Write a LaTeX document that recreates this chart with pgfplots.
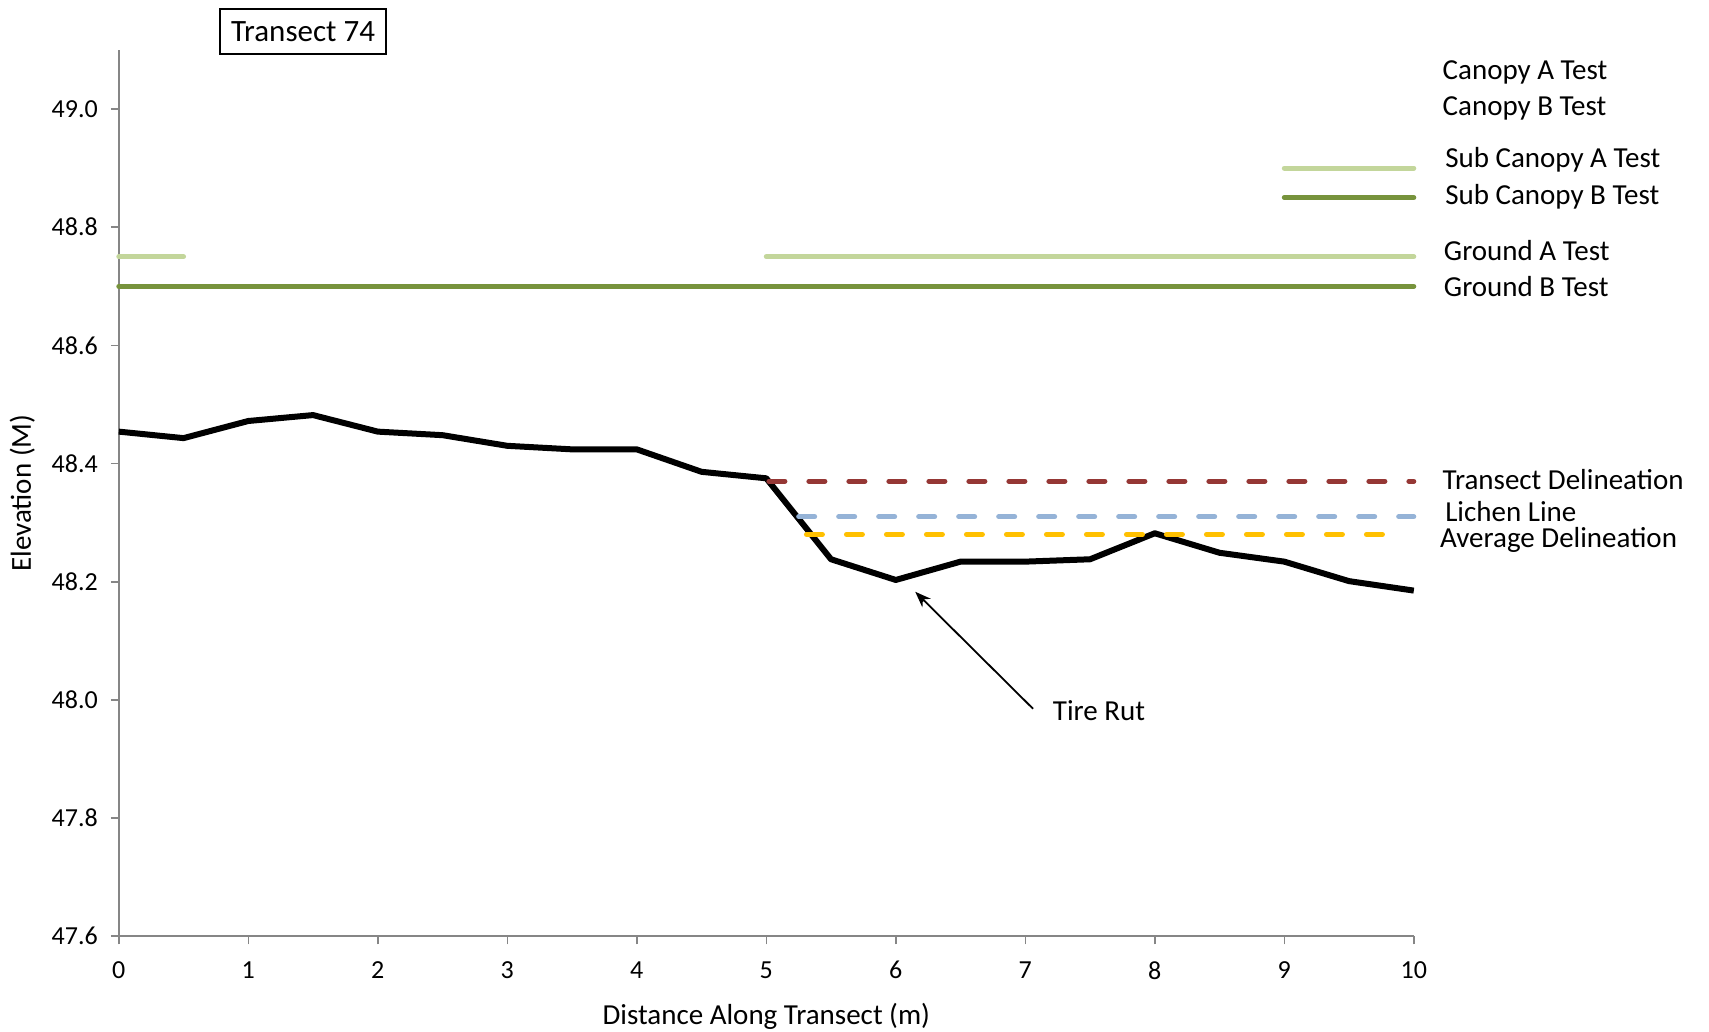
\documentclass[border=0pt]{standalone}
\usepackage{pgfplots}
\pgfplotsset{compat=1.18}
\usepackage{fontspec}
\setmainfont{Carlito}
\usetikzlibrary{arrows.meta}

\definecolor{lightgreen}{HTML}{C3D69B}
\definecolor{olivegreen}{HTML}{77933C}
\definecolor{delinred}{HTML}{953735}
\definecolor{lichenblue}{HTML}{95B3D7}
\definecolor{avggold}{HTML}{FFC000}
\definecolor{axisgray}{HTML}{868686}

\begin{document}
\begin{tikzpicture}
\path[use as bounding box] (0,0) rectangle (854.5pt,516pt);

\begin{axis}[
  at={(59.4pt,47.85pt)}, anchor=south west,
  scale only axis, width=647.5pt, height=443.2pt,
  xmin=0, xmax=10, ymin=47.6, ymax=49.1,
  clip=false,
  axis x line*=bottom, axis y line*=left,
  axis line style={axisgray, line width=1pt, -},
  tick style={axisgray, line width=0.8pt},
  tick align=outside, major tick length=4pt,
  xtick={0,1,...,10},
  ytick={47.6,47.8,48.0,48.2,48.4,48.6,48.8,49.0},
  yticklabel style={/pgf/number format/fixed, /pgf/number format/fixed zerofill, /pgf/number format/precision=1, xshift=-3pt},
  xticklabel style={yshift=-5pt},
  /pgf/number format/assume math mode=true,
  tick label style={font=\fontsize{13}{15}\selectfont},
  label style={font=\fontsize{14.5}{17}\selectfont},
  xlabel={Distance Along Transect (m)},
  ylabel={Elevation (M)},
  xlabel style={yshift=-5pt},
  ylabel style={yshift=1.5pt},
]

% ground profile
\addplot[black, line width=3pt, line join=round] coordinates {
(0,48.454) (0.5,48.443) (1,48.472) (1.5,48.482) (2,48.454) (2.5,48.448)
(3,48.430) (3.5,48.424) (4,48.424) (4.5,48.386) (5,48.375) (5.5,48.238)
(6,48.203) (6.5,48.234) (7,48.234) (7.5,48.238) (8,48.282) (8.5,48.249)
(9,48.234) (9.5,48.201) (10,48.185)};

% test levels
\addplot[lightgreen, line width=2.5pt, line cap=round] coordinates {(0,48.75) (0.5,48.75)};
\addplot[lightgreen, line width=2.5pt, line cap=round] coordinates {(5,48.75) (10,48.75)};
\addplot[olivegreen, line width=2.5pt, line cap=round] coordinates {(0,48.70) (10,48.70)};
\addplot[lightgreen, line width=2.5pt, line cap=round] coordinates {(9,48.90) (10,48.90)};
\addplot[olivegreen, line width=2.5pt, line cap=round] coordinates {(9,48.85) (10,48.85)};

% delineation levels
\addplot[delinred, line width=2.5pt, line cap=round, dash pattern=on 8pt off 12pt] coordinates {(5.02,48.37) (10,48.37)};
\addplot[lichenblue, line width=2.5pt, line cap=round, dash pattern=on 8pt off 12pt] coordinates {(5.25,48.31) (10,48.31)};
\addplot[avggold, line width=2.5pt, line cap=round, dash pattern=on 8pt off 12pt] coordinates {(5.31,48.28) (9.88,48.28)};

% series labels
\begin{scope}[every node/.style={anchor=west, font=\fontsize{14.5}{17}\selectfont, inner sep=0pt, yshift=-1.1pt}]
\node at (axis cs:10.22,49.066) {Canopy A Test};
\node at (axis cs:10.22,49.005) {Canopy B Test};
\node at (axis cs:10.24,48.917) {Sub Canopy A Test};
\node at (axis cs:10.24,48.856) {Sub Canopy B Test};
\node at (axis cs:10.23,48.764) {Ground A Test};
\node at (axis cs:10.23,48.703) {Ground B Test};
\node at (axis cs:10.22,48.377) {Transect Delineation};
\node at (axis cs:10.24,48.323) {Lichen Line};
\node at (axis cs:10.20,48.275) {Average Delineation};
\node at (axis cs:7.21,47.985) {Tire Rut};
\end{scope}

\draw[-{Stealth[length=8pt,width=6pt]}, line width=0.9pt] (axis cs:7.06,47.985) -- (axis cs:6.15,48.183);
\end{axis}

\node[draw, line width=1pt, minimum width=83pt, minimum height=22.5pt, inner sep=0pt,
      font=\fontsize{15.5}{18}\selectfont] at (151.5pt,500pt) {Transect 74};
\end{tikzpicture}
\end{document}
